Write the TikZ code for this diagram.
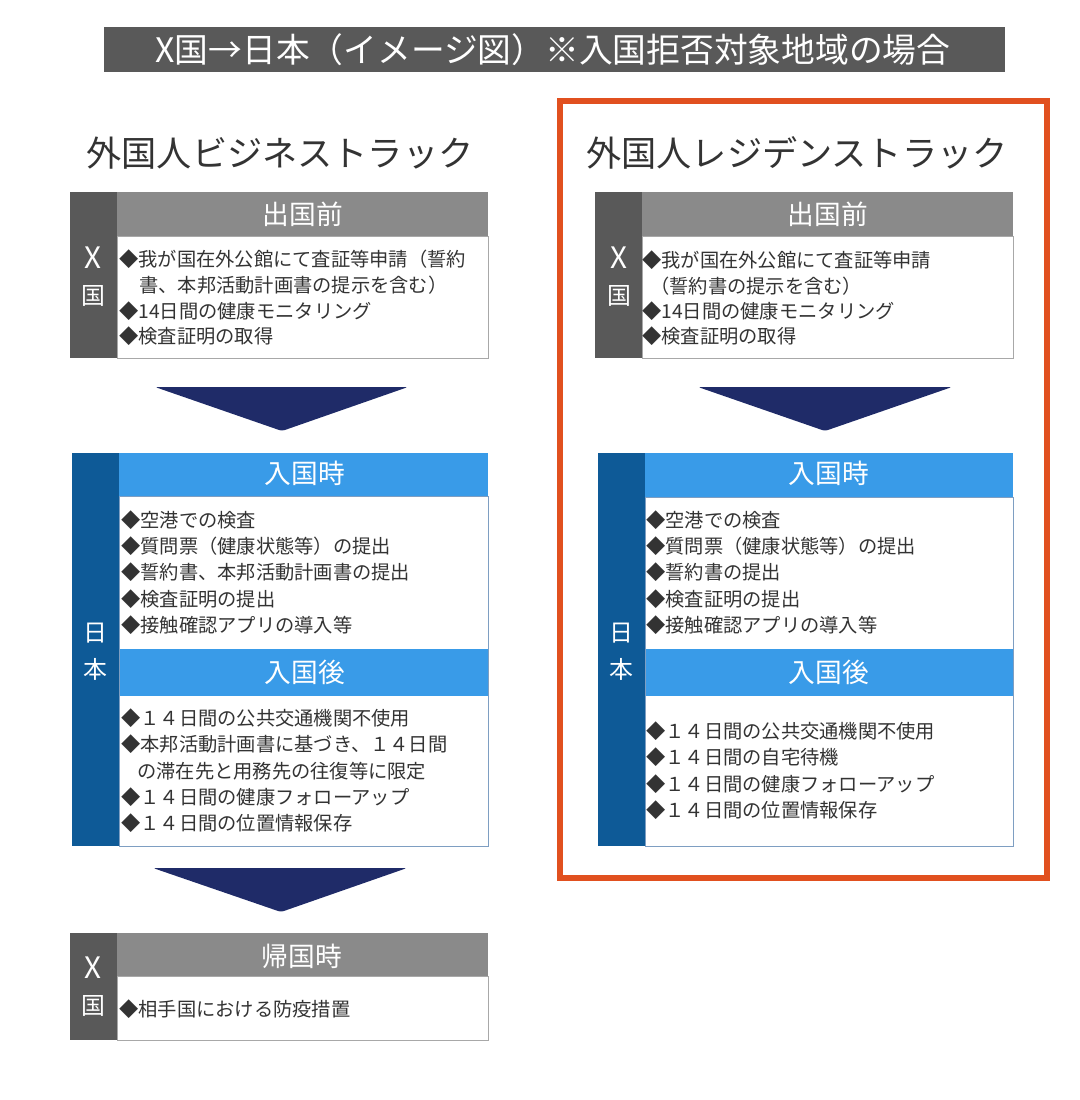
\documentclass[tikz,border=0pt]{standalone}
\usepackage{fontspec}
\setmainfont{Noto Sans CJK JP}
\usepackage{xcolor}
\usepackage{tikz}
\definecolor{barg}{HTML}{595959}
\definecolor{hdg}{HTML}{8A8A8A}
\definecolor{barb}{HTML}{0E5A97}
\definecolor{hdb}{HTML}{399BE8}
\definecolor{chv}{HTML}{1F2B68}
\definecolor{org}{HTML}{E1501F}
\definecolor{txt}{HTML}{333333}
\definecolor{lng}{HTML}{A8A8A8}
\definecolor{lnb}{HTML}{7E9EC2}

\begin{document}
\begin{tikzpicture}[x=0.025cm,y=-0.025cm]
\tikzset{tl/.style={text=white, font=\fontsize{24}{28}\selectfont},
  hd/.style={text=txt, font=\fontsize{25}{30}\selectfont},
  sec/.style={text=white, font=\fontsize{19}{22}\selectfont},
  sd/.style={text=white, font=\fontsize{17}{20}\selectfont},
  sdx/.style={sd, font=\fontsize{21}{24}\selectfont},
  ln/.style={anchor=west, text=txt, inner sep=0pt, font=\fontsize{13.7}{16}\selectfont},
  chev/.style={fill=chv, rounded corners=2pt},
  edg/.style={line width=0.6pt}};
\useasboundingbox (0,0) rectangle (1080,1100);
\fill[white] (0,0) rectangle (1080,1100);

\fill[barg] (104,27) rectangle (1005,72);
\node [tl] (title) at (553,49.5) {X国→日本（イメージ図）※入国拒否対象地域の場合};
\draw[org, line width=3.6pt] (560,101) rectangle (1047,878);
\node [hd] (bizhd) at (280,153) {外国人ビジネストラック};
\node [hd] (reshd) at (797,153) {外国人レジデンストラック};

\fill[barg] (70,192) rectangle (117,358);
\fill[hdg] (117,192) rectangle (488,236);
\draw[lng, edg] (117,236) rectangle (488,358);
\node [sec] (bizpre) at (303,214) {出国前};
\node [sdx] (bizx1) at (93,258) {X};
\node [sd] (bizx2) at (93,296) {国};
\node [ln] (bizpre1) at (119,259) {◆我が国在外公館にて査証等申請（誓約};
\node [ln] (bizpre2) at (139,285) {書、本邦活動計画書の提示を含む）};
\node [ln] (bizpre3) at (119,311) {◆14日間の健康モニタリング};
\node [ln] (bizpre4) at (119,336) {◆検査証明の取得};
\fill[chev] (155,387) -- (408,387) -- (282,431) -- cycle;

\fill[barb] (72,453) rectangle (119,846);
\fill[hdb] (119,453) rectangle (488,496);
\fill[hdb] (119,649) rectangle (488,696);
\draw[lnb, edg] (119,496) rectangle (488,846);
\node [sec] (bizin) at (305,473) {入国時};
\node [sec] (bizaft) at (305,672) {入国後};
\node [sd] (bizj1) at (95,633) {日};
\node [sd] (bizj2) at (95,669) {本};
\node [ln] (bizin1) at (121,520) {◆空港での検査};
\node [ln] (bizin2) at (121,546.5) {◆質問票（健康状態等）の提出};
\node [ln] (bizin3) at (121,572.5) {◆誓約書、本邦活動計画書の提出};
\node [ln] (bizin4) at (121,599) {◆検査証明の提出};
\node [ln] (bizin5) at (121,625.5) {◆接触確認アプリの導入等};
\node [ln] (bizaft1) at (121,718) {◆１４日間の公共交通機関不使用};
\node [ln] (bizaft2) at (121,744.5) {◆本邦活動計画書に基づき、１４日間};
\node [ln] (bizaft3) at (137,771) {の滞在先と用務先の往復等に限定};
\node [ln] (bizaft4) at (121,797) {◆１４日間の健康フォローアップ};
\node [ln] (bizaft5) at (121,823.5) {◆１４日間の位置情報保存};
\fill[chev] (153,868) -- (407,868) -- (281,912) -- cycle;

\fill[barg] (70,933) rectangle (117,1040);
\fill[hdg] (117,933) rectangle (488,976);
\draw[lng, edg] (117,976) rectangle (488,1040);
\node [sec] (bizret) at (302,956) {帰国時};
\node [sdx] (bizx3) at (93,968) {X};
\node [sd] (bizx4) at (93,1006) {国};
\node [ln] (bizret1) at (119,1009) {◆相手国における防疫措置};

\fill[barg] (595,192) rectangle (642,358);
\fill[hdg] (642,192) rectangle (1013,236);
\draw[lng, edg] (642,236) rectangle (1013,358);
\node [sec] (respre) at (828,214) {出国前};
\node [sdx] (resx1) at (619,258) {X};
\node [sd] (resx2) at (619,296) {国};
\node [ln] (respre1) at (642,260) {◆我が国在外公館にて査証等申請};
\node [ln] (respre2) at (650,286) {（誓約書の提示を含む）};
\node [ln] (respre3) at (642,311.5) {◆14日間の健康モニタリング};
\node [ln] (respre4) at (642,336.5) {◆検査証明の取得};
\fill[chev] (698,387) -- (952,387) -- (825,431) -- cycle;

\fill[barb] (598,453) rectangle (645,846);
\fill[hdb] (645,453) rectangle (1013,497);
\fill[hdb] (645,649) rectangle (1013,696);
\draw[lnb, edg] (645,497) rectangle (1013,846);
\node [sec] (resin) at (829,473) {入国時};
\node [sec] (resaft) at (829,672) {入国後};
\node [sd] (resj1) at (621,633) {日};
\node [sd] (resj2) at (621,669) {本};
\node [ln] (resin1) at (646,520) {◆空港での検査};
\node [ln] (resin2) at (646,546.5) {◆質問票（健康状態等）の提出};
\node [ln] (resin3) at (646,572.5) {◆誓約書の提出};
\node [ln] (resin4) at (646,599) {◆検査証明の提出};
\node [ln] (resin5) at (646,625.5) {◆接触確認アプリの導入等};
\node [ln] (resaft1) at (646,731) {◆１４日間の公共交通機関不使用};
\node [ln] (resaft2) at (646,757.5) {◆１４日間の自宅待機};
\node [ln] (resaft3) at (646,784) {◆１４日間の健康フォローアップ};
\node [ln] (resaft4) at (646,810) {◆１４日間の位置情報保存};
\end{tikzpicture}
\end{document}
